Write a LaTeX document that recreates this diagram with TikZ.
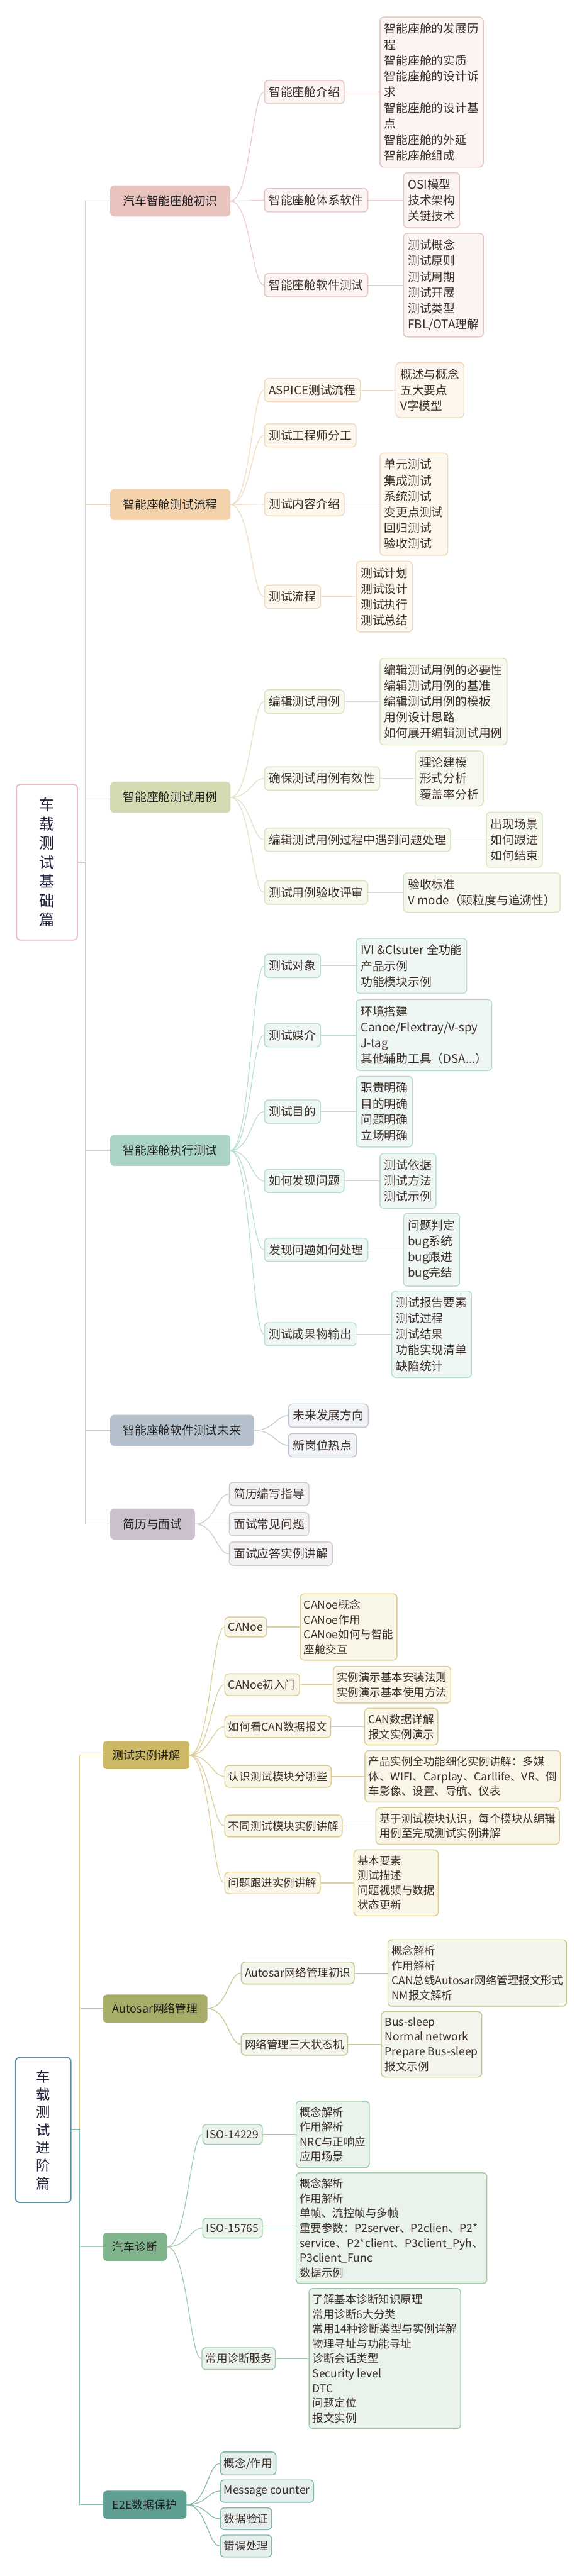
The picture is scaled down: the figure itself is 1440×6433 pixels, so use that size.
\documentclass[tikz,border=0pt]{standalone}
\usepackage{fontspec}
\setmainfont{Noto Sans CJK SC}
\usetikzlibrary{positioning}
\definecolor{txt}{HTML}{3B2E28}
\definecolor{navy}{HTML}{1E1F3A}
% branch A pink
\definecolor{aM}{HTML}{E8C3BE}\definecolor{aF}{HTML}{FBF4F2}\definecolor{aB}{HTML}{E6C4C0}\definecolor{aC}{HTML}{E8CBC8}
% branch B peach
\definecolor{bM}{HTML}{F3D2AC}\definecolor{bF}{HTML}{FDF7EE}\definecolor{bB}{HTML}{F0D9BD}\definecolor{bC}{HTML}{F1DCC4}
% branch C light olive
\definecolor{cM}{HTML}{D5DBB1}\definecolor{cF}{HTML}{F7F8EE}\definecolor{cB}{HTML}{DCE1C2}\definecolor{cC}{HTML}{DEE3C8}
% branch D light teal
\definecolor{dM}{HTML}{A8D3C6}\definecolor{dF}{HTML}{EFF7F4}\definecolor{dB}{HTML}{B6DBD0}\definecolor{dC}{HTML}{BCDDD3}
% branch E blue gray
\definecolor{eM}{HTML}{B4C0CC}\definecolor{eF}{HTML}{F1F3F6}\definecolor{eB}{HTML}{BCC6D0}\definecolor{eC}{HTML}{C3CCD5}
% branch F mauve
\definecolor{fM}{HTML}{CBC1CC}\definecolor{fF}{HTML}{F3F1F4}\definecolor{fB}{HTML}{D0C9D2}\definecolor{fC}{HTML}{D2CBD4}
% branch G gold
\definecolor{gM}{HTML}{CDB865}\definecolor{gF}{HTML}{F9F6E8}\definecolor{gB}{HTML}{DCCD8F}\definecolor{gC}{HTML}{DDD09A}
% branch H olive
\definecolor{hM}{HTML}{A7AD68}\definecolor{hF}{HTML}{F4F5EC}\definecolor{hB}{HTML}{C2C691}\definecolor{hC}{HTML}{C4C898}
% branch I green
\definecolor{iM}{HTML}{80B48C}\definecolor{iF}{HTML}{E9F3EC}\definecolor{iB}{HTML}{9EC8A8}\definecolor{iC}{HTML}{A3CBAD}
% branch J teal
\definecolor{jM}{HTML}{5F9F93}\definecolor{jF}{HTML}{E5F0EE}\definecolor{jB}{HTML}{80B6AC}\definecolor{jC}{HTML}{86B9AF}
\definecolor{s1B}{HTML}{E9BDBD}
\definecolor{s2B}{HTML}{5D8FA1}
\tikzset{
 mainbox/.style={rounded corners=8pt, line width=2pt, anchor=west, inner xsep=31pt, inner ysep=24pt,
   font=\fontsize{29.5}{39.5}\selectfont, text=black!88},
 mainboxb/.style={mainbox, inner xsep=23pt, inner ysep=21pt, font=\fontsize{28}{37}\selectfont},
 cbox/.style={rounded corners=10pt, line width=2.2pt, anchor=west, inner xsep=11pt, inner ysep=15.5pt,
   align=left, text=txt, font=\fontsize{29.5}{39.5}\selectfont},
 cboxb/.style={cbox, inner xsep=9pt, inner ysep=14.5pt, font=\fontsize{27.5}{37}\selectfont},
 conn/.style={line width=2pt},
 secbox/.style={rounded corners=10pt, line width=3pt, fill=white, align=center, text=navy},
 brA/.style={fill=aF,draw=aB}, brB/.style={fill=bF,draw=bB}, brC/.style={fill=cF,draw=cB},
 brD/.style={fill=dF,draw=dB}, brE/.style={fill=eF,draw=eB}, brF/.style={fill=fF,draw=fB},
 brG/.style={fill=gF,draw=gB}, brH/.style={fill=hF,draw=hB}, brI/.style={fill=iF,draw=iB},
 brJ/.style={fill=jF,draw=jB},
}
\newcommand{\cv}[3]{\draw[conn,#1] (#2.east) .. controls +(50,0) and +(-30,0) .. (#3.west);}
\newcommand{\st}[3]{\draw[conn,#1] (#2.east) -- (#3.west);}
\begin{document}
\begin{tikzpicture}[x=1pt,y=-1pt]
\useasboundingbox[fill=white] (0,0) rectangle (1440,6433);

%================ Section 1 =================
\node[secbox, draw=s1B, minimum width=152pt, minimum height=389pt, font=\fontsize{38}{48}\selectfont] (s1) at (117,2153) {车\\载\\测\\试\\基\\础\\篇};
\coordinate (sp1) at (213,2153);

% main nodes
\node[mainbox, fill=aM, draw=aM] (m1) at (275,502) {汽车智能座舱初识};
\node[mainbox, fill=bM, draw=bM] (m2) at (275,1260) {智能座舱测试流程};
\node[mainbox, fill=cM, draw=cM] (m3) at (275,1991) {智能座舱测试用例};
\node[mainbox, fill=dM, draw=dM] (m4) at (275,2873) {智能座舱执行测试};
\node[mainbox, fill=eM, draw=eM] (m5) at (275,3572) {智能座舱软件测试未来};
\node[mainbox, fill=fM, draw=fM] (m6) at (275,3806) {简历与面试};

% spine connectors
\draw[conn,cC] (s1.east) -- (sp1) |- (m3.west);
\draw[conn,bC] (s1.east) -- (sp1) |- (m2.west);
\draw[conn,aC] (s1.east) -- (sp1) |- (m1.west);
\draw[conn,dC] (s1.east) -- (sp1) |- (m4.west);
\draw[conn,eC] (s1.east) -- (sp1) |- (m5.west);
\draw[conn,fC] (s1.east) -- (sp1) |- (m6.west);

% branch A
\node[cbox,brA] (c11) at (659,230) {智能座舱介绍};
\node[cbox,brA] (c12) at (659,500) {智能座舱体系软件};
\node[cbox,brA] (c13) at (659,712) {智能座舱软件测试};
\node[cbox,brA,right=87pt of c11] (l11) {智能座舱的发展历\\程\\智能座舱的实质\\智能座舱的设计诉\\求\\智能座舱的设计基\\点\\智能座舱的外延\\智能座舱组成};
\node[cbox,brA,right=87pt of c12] (l12) {OSI模型\\技术架构\\关键技术};
\node[cbox,brA,right=87pt of c13] (l13) {测试概念\\测试原则\\测试周期\\测试开展\\测试类型\\FBL/OTA理解};
\cv{aC}{m1}{c11}\cv{aC}{m1}{c12}\cv{aC}{m1}{c13}
\st{aC}{c11}{l11}\st{aC}{c12}{l12}\st{aC}{c13}{l13}

% branch B
\node[cbox,brB] (c21) at (659,974) {ASPICE测试流程};
\node[cbox,brB] (c22) at (659,1087) {测试工程师分工};
\node[cbox,brB] (c23) at (659,1259) {测试内容介绍};
\node[cbox,brB] (c24) at (659,1490) {测试流程};
\node[cbox,brB,right=87pt of c21] (l21) {概述与概念\\五大要点\\V字模型};
\node[cbox,brB,right=87pt of c23] (l23) {单元测试\\集成测试\\系统测试\\变更点测试\\回归测试\\验收测试};
\node[cbox,brB,right=87pt of c24] (l24) {测试计划\\测试设计\\测试执行\\测试总结};
\cv{bC}{m2}{c21}\cv{bC}{m2}{c22}\cv{bC}{m2}{c23}\cv{bC}{m2}{c24}
\st{bC}{c21}{l21}\st{bC}{c23}{l23}\st{bC}{c24}{l24}

% branch C
\node[cbox,brC] (c31) at (659,1752) {编辑测试用例};
\node[cbox,brC] (c32) at (659,1944) {确保测试用例有效性};
\node[cbox,brC] (c33) at (659,2097) {编辑测试用例过程中遇到问题处理};
\node[cbox,brC] (c34) at (659,2229) {测试用例验收评审};
\node[cbox,brC,right=87pt of c31] (l31) {编辑测试用例的必要性\\编辑测试用例的基准\\编辑测试用例的模板\\用例设计思路\\如何展开编辑测试用例};
\node[cbox,brC,right=87pt of c32] (l32) {理论建模\\形式分析\\覆盖率分析};
\node[cbox,brC,right=87pt of c33] (l33) {出现场景\\如何跟进\\如何结束};
\node[cbox,brC,right=87pt of c34] (l34) {验收标准\\V mode（颗粒度与追溯性）};
\cv{cC}{m3}{c31}\cv{cC}{m3}{c32}\cv{cC}{m3}{c33}\cv{cC}{m3}{c34}
\st{cC}{c31}{l31}\st{cC}{c32}{l32}\st{cC}{c33}{l33}\st{cC}{c34}{l34}

% branch D
\node[cbox,brD] (c41) at (659,2412) {测试对象};
\node[cbox,brD] (c42) at (659,2585) {测试媒介};
\node[cbox,brD] (c43) at (659,2776) {测试目的};
\node[cbox,brD] (c44) at (659,2949) {如何发现问题};
\node[cbox,brD] (c45) at (659,3121) {发现问题如何处理};
\node[cbox,brD] (c46) at (659,3332) {测试成果物输出};
\node[cbox,brD,right=87pt of c41] (l41) {IVI \&Clsuter 全功能\\产品示例\\功能模块示例};
\node[cbox,brD,right=87pt of c42] (l42) {环境搭建\\Canoe/Flextray/V-spy\\J-tag\\其他辅助工具（DSA...）};
\node[cbox,brD,right=87pt of c43] (l43) {职责明确\\目的明确\\问题明确\\立场明确};
\node[cbox,brD,right=87pt of c44] (l44) {测试依据\\测试方法\\测试示例};
\node[cbox,brD,right=87pt of c45] (l45) {问题判定\\bug系统\\bug跟进\\bug完结};
\node[cbox,brD,right=87pt of c46] (l46) {测试报告要素\\测试过程\\测试结果\\功能实现清单\\缺陷统计};
\cv{dC}{m4}{c41}\cv{dC}{m4}{c42}\cv{dC}{m4}{c43}\cv{dC}{m4}{c44}\cv{dC}{m4}{c45}\cv{dC}{m4}{c46}
\st{dC}{c41}{l41}\st{dC}{c42}{l42}\st{dC}{c43}{l43}\st{dC}{c44}{l44}\st{dC}{c45}{l45}\st{dC}{c46}{l46}

% branch E
\node[cbox,brE] (c51) at (719,3535) {未来发展方向};
\node[cbox,brE] (c52) at (719,3609) {新岗位热点};
\cv{eC}{m5}{c51}\cv{eC}{m5}{c52}

% branch F
\node[cbox,brF] (c61) at (571,3731) {简历编写指导};
\node[cbox,brF] (c62) at (571,3806) {面试常见问题};
\node[cbox,brF] (c63) at (571,3880) {面试应答实例讲解};
\cv{fC}{m6}{c61}\cv{fC}{m6}{c62}\cv{fC}{m6}{c63}

%================ Section 2 =================
\node[secbox, draw=s2B, minimum width=138pt, minimum height=362pt, font=\fontsize{35}{44.5}\selectfont] (s2) at (108,5319) {车\\载\\测\\试\\进\\阶\\篇};
\coordinate (sp2) at (199,5319);

\node[mainboxb, fill=gM, draw=gM] (m7) at (257,4383) {测试实例讲解};
\node[mainboxb, fill=hM, draw=hM] (m8) at (257,5016) {Autosar网络管理};
\node[mainboxb, fill=iM, draw=iM] (m9) at (257,5611) {汽车诊断};
\node[mainboxb, fill=jM, draw=jM] (m10) at (257,6255) {E2E数据保护};

\draw[conn,hC] (s2.east) -- (sp2) |- (m8.west);
\draw[conn,gC] (s2.east) -- (sp2) |- (m7.west);
\draw[conn,iC] (s2.east) -- (sp2) |- (m9.west);
\draw[conn,jC] (s2.east) -- (sp2) |- (m10.west);

% branch G
\node[cboxb,brG] (c71) at (560,4063) {CANoe};
\node[cboxb,brG] (c72) at (560,4207) {CANoe初入门};
\node[cboxb,brG] (c73) at (560,4312) {如何看CAN数据报文};
\node[cboxb,brG] (c74) at (560,4436) {认识测试模块分哪些};
\node[cboxb,brG] (c75) at (560,4560) {不同测试模块实例讲解};
\node[cboxb,brG] (c76) at (560,4702) {问题跟进实例讲解};
\node[cboxb,brG,right=82pt of c71] (l71) {CANoe概念\\CANoe作用\\CANoe如何与智能\\座舱交互};
\node[cboxb,brG,right=82pt of c72] (l72) {实例演示基本安装法则\\实例演示基本使用方法};
\node[cboxb,brG,right=82pt of c73] (l73) {CAN数据详解\\报文实例演示};
\node[cboxb,brG,right=82pt of c74] (l74) {产品实例全功能细化实例讲解：多媒\\体、WIFI、Carplay、Carllife、VR、倒\\车影像、设置、导航、仪表};
\node[cboxb,brG,right=82pt of c75] (l75) {基于测试模块认识，每个模块从编辑\\用例至完成测试实例讲解};
\node[cboxb,brG,right=82pt of c76] (l76) {基本要素\\测试描述\\问题视频与数据\\状态更新};
\cv{gC}{m7}{c71}\cv{gC}{m7}{c72}\cv{gC}{m7}{c73}\cv{gC}{m7}{c74}\cv{gC}{m7}{c75}\cv{gC}{m7}{c76}
\st{gC}{c71}{l71}\st{gC}{c72}{l72}\st{gC}{c73}{l73}\st{gC}{c74}{l74}\st{gC}{c75}{l75}\st{gC}{c76}{l76}

% branch H
\node[cboxb,brH] (c81) at (601,4927) {Autosar网络管理初识};
\node[cboxb,brH] (c82) at (601,5105) {网络管理三大状态机};
\node[cboxb,brH,right=82pt of c81] (l81) {概念解析\\作用解析\\CAN总线Autosar网络管理报文形式\\NM报文解析};
\node[cboxb,brH,right=82pt of c82] (l82) {Bus-sleep\\Normal network\\Prepare Bus-sleep\\报文示例};
\cv{hC}{m8}{c81}\cv{hC}{m8}{c82}
\st{hC}{c81}{l81}\st{hC}{c82}{l82}

% branch I
\node[cboxb,brI] (c91) at (505,5330) {ISO-14229};
\node[cboxb,brI] (c92) at (505,5564) {ISO-15765};
\node[cboxb,brI] (c93) at (503,5890) {常用诊断服务};
\node[cboxb,brI,right=82pt of c91] (l91) {概念解析\\作用解析\\NRC与正响应\\应用场景};
\node[cboxb,brI,right=82pt of c92] (l92) {概念解析\\作用解析\\单帧、流控帧与多帧\\重要参数：P2server、P2clien、P2*\\service、P2*client、P3client\_Pyh、\\P3client\_Func\\数据示例};
\node[cboxb,brI,right=82pt of c93] (l93) {了解基本诊断知识原理\\常用诊断6大分类\\常用14种诊断类型与实例详解\\物理寻址与功能寻址\\诊断会话类型\\Security level\\DTC\\问题定位\\报文实例};
\cv{iC}{m9}{c91}\cv{iC}{m9}{c92}\cv{iC}{m9}{c93}
\st{iC}{c91}{l91}\st{iC}{c92}{l92}\st{iC}{c93}{l93}

% branch J
\node[cboxb,brJ] (c101) at (549,6152) {概念/作用};
\node[cboxb,brJ] (c102) at (549,6221) {Message counter};
\node[cboxb,brJ] (c103) at (549,6290) {数据验证};
\node[cboxb,brJ] (c104) at (549,6358) {错误处理};
\cv{jC}{m10}{c101}\cv{jC}{m10}{c102}\cv{jC}{m10}{c103}\cv{jC}{m10}{c104}
\end{tikzpicture}
\end{document}
